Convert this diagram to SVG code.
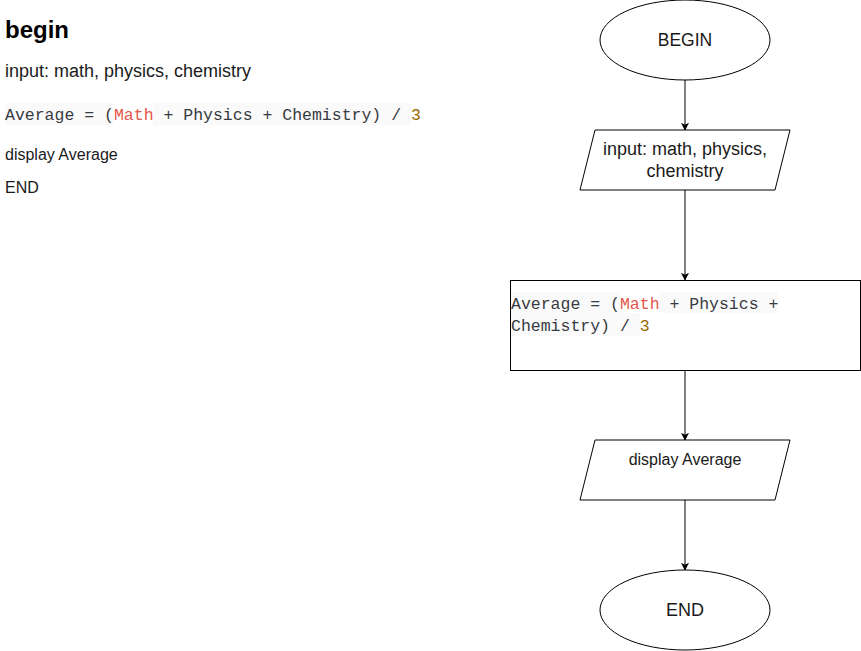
<svg xmlns="http://www.w3.org/2000/svg" width="861" height="651" viewBox="0 0 861 651">
<defs>
<marker id="arr" viewBox="0 0 10 10" refX="9" refY="5" markerWidth="8" markerHeight="8" markerUnits="userSpaceOnUse" orient="auto">
<path d="M0,0 L10,5 L0,10 L2.5,5 Z" fill="#000"/>
</marker>
</defs>
<style>
.s{fill:#fff;stroke:#000;stroke-width:1}
.t{font-family:"Liberation Sans",Arial,sans-serif;fill:#1a1a1a}
.h{fill:#000}
.c{font-family:"Liberation Mono","DejaVu Sans Mono",monospace;font-size:16.5px;fill:#383a42;white-space:pre}
.r{fill:#e45649}
.n{fill:#986801}
.bg{fill:#fafafa}
.e{stroke:#000;stroke-width:1;fill:none;marker-end:url(#arr)}
</style>
<rect width="861" height="651" fill="#fff"/>
<g id="notes">
<text class="t h" x="5" y="38" font-size="24" font-weight="bold">begin</text>
<text class="t" x="5" y="77" font-size="18">input: math, physics, chemistry</text>
<rect class="bg" x="5" y="103" width="109" height="22"/>
<rect class="bg" x="153" y="103" width="258" height="22"/>
<text class="c" x="5" y="120" xml:space="preserve">Average = (<tspan class="r">Math</tspan> + Physics + Chemistry) / <tspan class="n">3</tspan></text>
<text class="t" x="5" y="160" font-size="16">display Average</text>
<text class="t" x="5" y="193" font-size="16">END</text>
</g>
<g id="connectors">
<line class="e" x1="685" y1="80" x2="685" y2="130"/>
<line class="e" x1="685" y1="190" x2="685" y2="280"/>
<line class="e" x1="685" y1="370" x2="685" y2="440"/>
<line class="e" x1="685" y1="500" x2="685" y2="570"/>
</g>
<g id="begin">
<ellipse class="s" cx="685" cy="40" rx="85" ry="40"/>
<text class="t" x="685" y="46" font-size="17.5" text-anchor="middle">BEGIN</text>
</g>
<g id="input">
<polygon class="s" points="595,130 790,130 775,190 580,190"/>
<text class="t" x="685" y="155" font-size="18" text-anchor="middle">input: math, physics,</text>
<text class="t" x="685" y="177" font-size="18" text-anchor="middle">chemistry</text>
</g>
<g id="process">
<rect class="s" x="510.5" y="280.5" width="350" height="90"/>
<rect class="bg" x="511" y="292" width="109" height="21"/>
<rect class="bg" x="659" y="292" width="119" height="21"/>
<rect class="bg" x="511" y="313" width="129" height="23"/>
<text class="c" x="511" y="309" xml:space="preserve">Average = (<tspan class="r">Math</tspan> + Physics +</text>
<text class="c" x="511" y="331" xml:space="preserve">Chemistry) / <tspan class="n">3</tspan></text>
</g>
<g id="display">
<polygon class="s" points="595,440 790,440 775,500 580,500"/>
<text class="t" x="685" y="465" font-size="16" text-anchor="middle">display Average</text>
</g>
<g id="end">
<ellipse class="s" cx="685" cy="610" rx="85" ry="40"/>
<text class="t" x="685" y="616" font-size="18" text-anchor="middle">END</text>
</g>
</svg>
